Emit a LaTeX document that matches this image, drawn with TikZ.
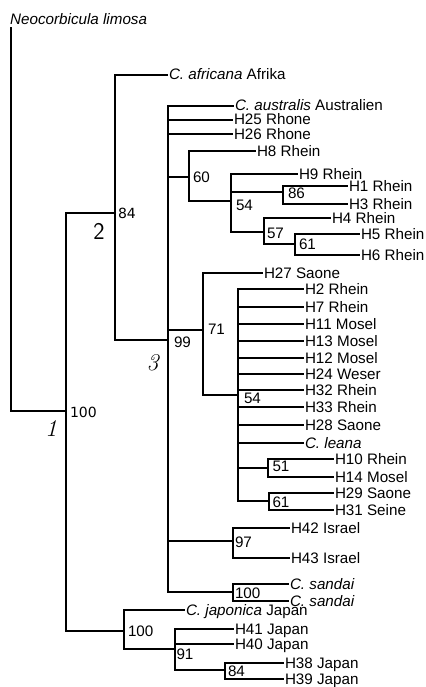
\documentclass[tikz,border=0pt]{standalone}
\usepackage{fontspec}
\newfontfamily\arial{Liberation Sans}
\newfontfamily\dejavu{DejaVu Sans}
\begin{document}
\begin{tikzpicture}[x=1bp,y=-1bp,
  branch/.style={draw, line width=2bp, line cap=rect, line join=miter},
  leaf/.style={anchor=west, inner xsep=2bp, inner ysep=0pt, outer sep=0pt,
    text height=10bp, text depth=0bp, font=\arial\fontsize{15.2bp}{18bp}\selectfont},
  bs/.style={anchor=west, inner sep=0pt, outer sep=0pt, font=\arial\fontsize{15.2bp}{18bp}\selectfont},
  bsv/.style={anchor=west, inner sep=0pt, outer sep=0pt, font=\dejavu\fontsize{14bp}{16bp}\selectfont},
  clade/.style={inner sep=0pt, outer sep=0pt, font=\fontsize{24bp}{28bp}\selectfont\itshape}]
\useasboundingbox (0,0) rectangle (425,687);

% internal nodes (junction points)
\coordinate (n1) at (66,411);
\coordinate (n2) at (115,213);
\coordinate (n3) at (168,340);
\coordinate (n60) at (189,177);
\coordinate (n54a) at (231,201);
\coordinate (n86) at (283,192);
\coordinate (n57) at (264,232);
\coordinate (n61a) at (295,244);
\coordinate (n71) at (203,330);
\coordinate (n54b) at (238,395);
\coordinate (n51) at (268,468);
\coordinate (n61b) at (269,501);
\coordinate (n97) at (233,541);
\coordinate (nsa) at (233,592);
\coordinate (nJ) at (124,631);
\coordinate (n91) at (175,649);
\coordinate (n84) at (225,670);
\coordinate (neo) at (11,28);

% leaves
\node[anchor=base west, inner sep=0pt, font=\arial\fontsize{15.2bp}{18bp}\selectfont\itshape] (neoT) at (10,25) {Neocorbicula limosa};
\node[leaf] (afr) at (167,75) {\itshape C. africana\upshape{} Afrika};
\node[leaf] (aus) at (233,106) {\itshape C. australis\upshape{} Australien};
\node[leaf] (h25) at (232,120) {H25 Rhone};
\node[leaf] (h26) at (232,134) {H26 Rhone};
\node[leaf] (h8) at (255,151) {H8 Rhein};
\node[leaf] (h9) at (297,174) {H9 Rhein};
\node[leaf] (h1) at (347,186) {H1 Rhein};
\node[leaf] (h3) at (347,204) {H3 Rhein};
\node[leaf] (h4) at (330,218) {H4 Rhein};
\node[leaf] (h5) at (359,234) {H5 Rhein};
\node[leaf] (h6) at (359,255) {H6 Rhein};
\node[leaf] (h27) at (262,273) {H27 Saone};
\node[leaf] (h2) at (303,289) {H2 Rhein};
\node[leaf] (h7) at (303,307) {H7 Rhein};
\node[leaf] (h11) at (303,324) {H11 Mosel};
\node[leaf] (h13) at (303,341) {H13 Mosel};
\node[leaf] (h12) at (303,358) {H12 Mosel};
\node[leaf] (h24) at (303,374) {H24 Weser};
\node[leaf] (h32) at (303,390) {H32 Rhein};
\node[leaf] (h33) at (303,407) {H33 Rhein};
\node[leaf] (h28) at (303,425) {H28 Saone};
\node[leaf] (lea) at (303,443) {\itshape C. leana};
\node[leaf] (h10) at (333,459) {H10 Rhein};
\node[leaf] (h14) at (333,477) {H14 Mosel};
\node[leaf] (h29) at (333,493) {H29 Saone};
\node[leaf] (h31) at (333,510) {H31 Seine};
\node[leaf] (h42) at (289,528) {H42 Israel};
\node[leaf] (h43) at (289,558) {H43 Israel};
\node[leaf] (sa1) at (288,584) {\itshape C. sandai};
\node[leaf] (sa2) at (288,601) {\itshape C. sandai};
\node[leaf] (jap) at (184,610) {\itshape C. japonica\upshape{} Japan};
\node[leaf] (h41) at (233,629) {H41 Japan};
\node[leaf] (h40) at (233,644) {H40 Japan};
\node[leaf] (h38) at (283,663) {H38 Japan};
\node[leaf] (h39) at (283,679) {H39 Japan};

% branches
\draw[branch] (n1) -| (neo);
\draw[branch] (n1) |- (n2);
\draw[branch] (n1) |- (nJ);
\draw[branch] (n2) |- (afr.west);
\draw[branch] (n2) |- (n3);
\draw[branch] (n3) |- (aus.west);
\draw[branch] (n3) |- (h25.west);
\draw[branch] (n3) |- (h26.west);
\draw[branch] (n3) |- (n60);
\draw[branch] (n3) |- (n71);
\draw[branch] (n3) |- (n97);
\draw[branch] (n3) |- (nsa);
\draw[branch] (n60) |- (h8.west);
\draw[branch] (n60) |- (n54a);
\draw[branch] (n54a) |- (h9.west);
\draw[branch] (n54a) |- (n86);
\draw[branch] (n54a) |- (n57);
\draw[branch] (n86) |- (h1.west);
\draw[branch] (n86) |- (h3.west);
\draw[branch] (n57) |- (h4.west);
\draw[branch] (n57) |- (n61a);
\draw[branch] (n61a) |- (h5.west);
\draw[branch] (n61a) |- (h6.west);
\draw[branch] (n71) |- (h27.west);
\draw[branch] (n71) |- (n54b);
\foreach \l in {h2,h7,h11,h13,h12,h24,h32,h33,h28,lea}
  \draw[branch] (n54b) |- (\l.west);
\draw[branch] (n54b) |- (n51);
\draw[branch] (n54b) |- (n61b);
\draw[branch] (n51) |- (h10.west);
\draw[branch] (n51) |- (h14.west);
\draw[branch] (n61b) |- (h29.west);
\draw[branch] (n61b) |- (h31.west);
\draw[branch] (n97) |- (h42.west);
\draw[branch] (n97) |- (h43.west);
\draw[branch] (nsa) |- (sa1.west);
\draw[branch] (nsa) |- (sa2.west);
\draw[branch] (nJ) |- (jap.west);
\draw[branch] (nJ) |- (n91);
\draw[branch] (n91) |- (h41.west);
\draw[branch] (n91) |- (h40.west);
\draw[branch] (n91) |- (n84);
\draw[branch] (n84) |- (h38.west);
\draw[branch] (n84) |- (h39.west);

% support values
\node[bsv] (b1) at (70,412.5) {100};
\node[bsv] (b2) at (118,213.5) {84};
\node[bs] (b99) at (174,342) {99};
\node[bs] (b60) at (193,177) {60};
\node[bs] (b54a) at (236,205) {54};
\node[bs] (b86) at (288,193) {86};
\node[bs] (b57) at (267,233) {57};
\node[bs] (b61a) at (299,244.5) {61};
\node[bs] (b71) at (208,329) {71};
\node[bs] (b54b) at (244,398.5) {54};
\node[bs] (b51) at (272.5,466.7) {51};
\node[bs] (b61b) at (272.5,502) {61};
\node[bs] (b97) at (235,542) {97};
\node[bs] (b100s) at (235,593) {100};
\node[bs] (b100j) at (128,631) {100};
\node[bs] (b91) at (176.5,654.5) {91};
\node[bs] (b84j) at (228,671) {84};

% clade numbers
\node[clade] (c1) at (51,429) {1};
\node[clade, font=\fontsize{24bp}{28bp}\selectfont\sffamily] (c2) at (99,231.5) {2};
\node[clade] (c3) at (152.5,362.5) {3};
\end{tikzpicture}
\end{document}
